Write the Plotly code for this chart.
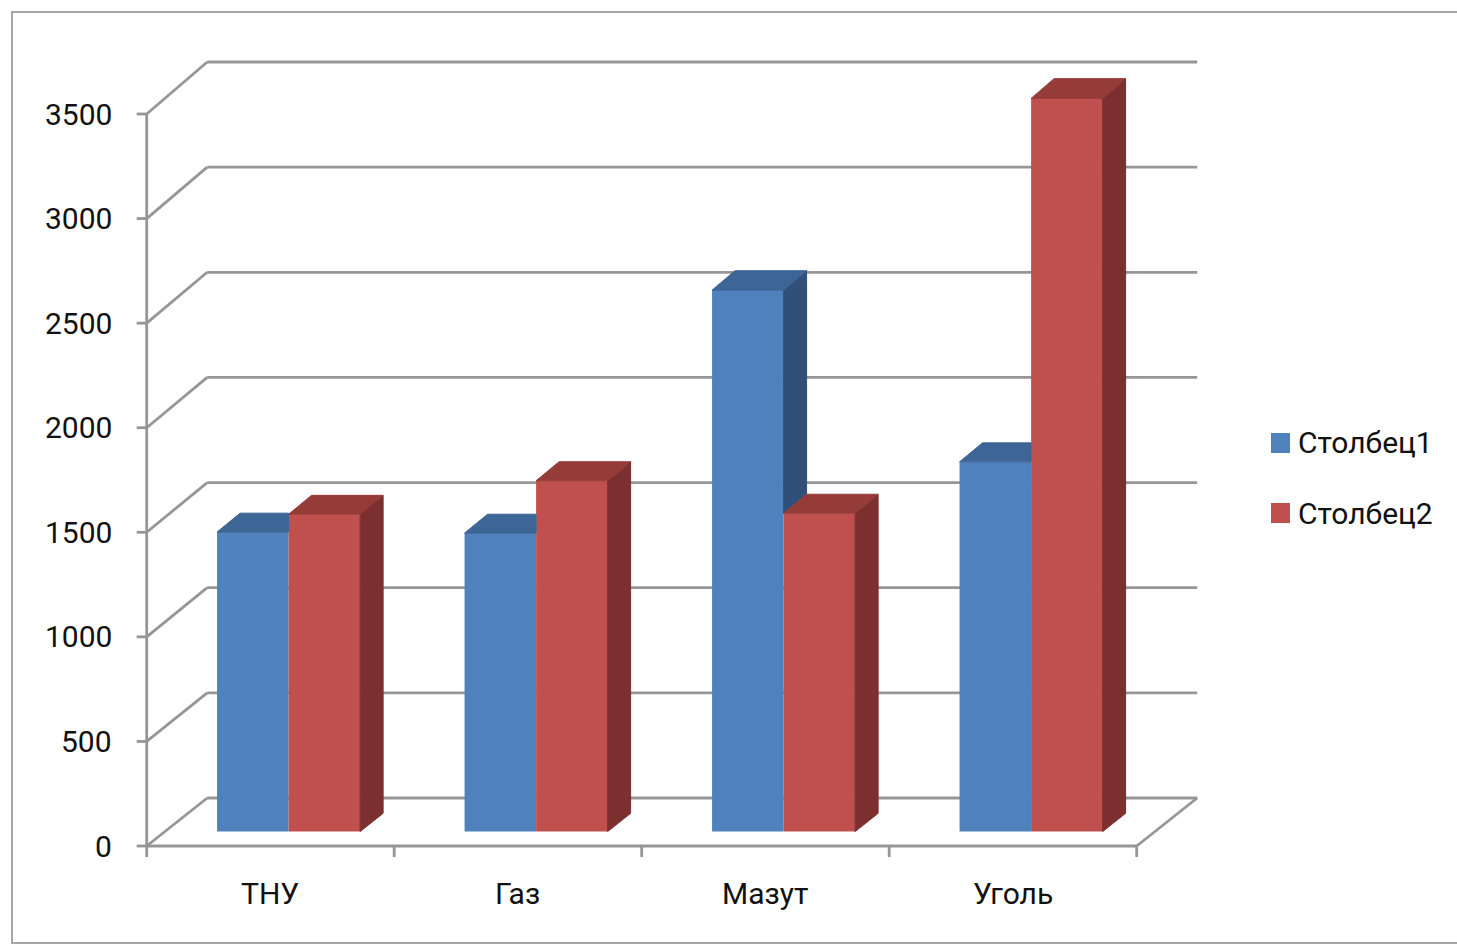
import plotly.graph_objects as go

# ---- data ----
categories = ["ТНУ", "Газ", "Мазут", "Уголь"]
series_names = ["Столбец1", "Столбец2"]
col1 = [1430, 1425, 2585, 1765]
col2 = [1515, 1675, 1520, 3500]
y_ticks = [0, 500, 1000, 1500, 2000, 2500, 3000, 3500]

# ---- geometry of the oblique 3-D box ----
W, H = 1457, 945
PX_CAT = 247.5            # pixels per category slot
PX_VAL = 732 / 3500       # pixels per value unit on the front plane
ORIGIN_X, ORIGIN_Y = 146.7, 846.0   # front-left floor corner in pixels

DEPTH_X = 60.5 / PX_CAT   # horizontal shift of the back wall (category units)
DEPTH_Y = 48 / PX_VAL     # vertical shift of the back wall (value units)
DEPTH_GROW = 4 / 732      # slight perspective growth toward the back
BAR_D0, BAR_D1 = 0.30, 0.68
BAR_W = 0.289

FRONT = ["#4F81BD", "#C0504D"]
TOP = ["#3D6595", "#953B38"]
SIDE = ["#30507A", "#7B2F2E"]
GRID = "#969696"
FONT = "Roboto, sans-serif"
FS = 30


def proj(c, v, d):
    """Map (category pos, value, depth 0..1) onto the flat plot plane."""
    return c + d * DEPTH_X, v * (1 + d * DEPTH_GROW) + d * DEPTH_Y


fig = go.Figure()
shapes = []


def seg(p, q, width=2.8):
    shapes.append(dict(type="line", xref="x", yref="y", layer="below",
                       x0=p[0], y0=p[1], x1=q[0], y1=q[1],
                       line=dict(color=GRID, width=width)))


n = len(categories)
top_val = y_ticks[-1]
# walls and gridlines
for v in y_ticks:
    seg(proj(0, v, 0), proj(0, v, 1))
    seg(proj(0, v, 1), proj(n, v, 1))
seg(proj(0, 0, 0), proj(n, 0, 0))
seg(proj(n, 0, 0), proj(n, 0, 1))
seg(proj(0, 0, 0), proj(0, top_val, 0))
# tick marks
for v in y_ticks:
    seg((-10 / PX_CAT, v), (0, v))
for i in range(n + 1):
    seg((i, 0), (i, -11 / PX_VAL))

series = [col1, col2]

# front faces as bars
for s, vals in enumerate(series):
    xs, bases, lens = [], [], []
    for i, v in enumerate(vals):
        left = i + 0.5 - BAR_W + s * BAR_W
        cx, base = proj(left + BAR_W / 2, 0, BAR_D0)
        _, top = proj(left + BAR_W / 2, v, BAR_D0)
        xs.append(cx)
        bases.append(base)
        lens.append(top - base)
    fig.add_trace(go.Bar(x=xs, y=lens, base=bases, width=BAR_W,
                         marker=dict(color=FRONT[s], line=dict(width=0)),
                         name=series_names[s], showlegend=False,
                         hoverinfo="skip"))


def poly_trace(polys, color):
    xs, ys = [], []
    for pts in polys:
        for p in pts:
            xs.append(p[0])
            ys.append(p[1])
        xs.append(pts[0][0])
        ys.append(pts[0][1])
        xs.append(None)
        ys.append(None)
    fig.add_trace(go.Scatter(x=xs, y=ys, mode="lines", fill="toself",
                             fillcolor=color, line=dict(color=color, width=1),
                             showlegend=False, hoverinfo="skip"))


# side and top faces; blue faces are trimmed where the red bar hides them
for s, vals in enumerate(series):
    sides, tops = [], []
    for i, v in enumerate(vals):
        left = i + 0.5 - BAR_W + s * BAR_W
        right = left + BAR_W
        if s == 0:
            lo = col2[i]
            if v > lo:
                sides.append([proj(right, lo, BAR_D0), proj(right, v, BAR_D0),
                              proj(right, v, BAR_D1), proj(right, lo, BAR_D1)])
                tops.append([proj(left, v, BAR_D0), proj(right, v, BAR_D0),
                             proj(right, v, BAR_D1), proj(left, v, BAR_D1)])
            else:
                back_y = proj(left, v, BAR_D1)[1]
                tops.append([proj(left, v, BAR_D0), proj(right, v, BAR_D0),
                             (proj(right, v, BAR_D0)[0], back_y),
                             proj(left, v, BAR_D1)])
        else:
            sides.append([proj(right, 0, BAR_D0), proj(right, v, BAR_D0),
                          proj(right, v, BAR_D1), proj(right, 0, BAR_D1)])
            tops.append([proj(left, v, BAR_D0), proj(right, v, BAR_D0),
                         proj(right, v, BAR_D1), proj(left, v, BAR_D1)])
    if sides:
        poly_trace(sides, SIDE[s])
    poly_trace(tops, TOP[s])

annotations = []
# value axis labels
for v in y_ticks:
    annotations.append(dict(x=(114 - ORIGIN_X) / PX_CAT, y=v, xref="x", yref="y",
                            text=str(v), showarrow=False, xanchor="right",
                            yanchor="middle",
                            font=dict(family=FONT, size=FS, color="#111111")))
# category labels
for i, c in enumerate(categories):
    annotations.append(dict(x=i + 0.5, y=(ORIGIN_Y - 893) / PX_VAL, xref="x", yref="y",
                            text=c, showarrow=False, xanchor="center",
                            yanchor="middle",
                            font=dict(family=FONT, size=FS, color="#111111")))

# legend
legend_rows = [443, 513]
for s, name in enumerate(series_names):
    cy = legend_rows[s]
    shapes.append(dict(type="rect", xref="paper", yref="paper",
                       x0=1271 / W, x1=1290 / W,
                       y0=1 - (cy + 10) / H, y1=1 - (cy - 10) / H,
                       fillcolor=FRONT[s], line=dict(width=0)))
    annotations.append(dict(x=1296 / W, y=1 - cy / H, xref="paper", yref="paper",
                            text=name, showarrow=False, xanchor="left",
                            yanchor="middle",
                            font=dict(family=FONT, size=FS, color="#111111")))

# outer frame of the chart area
shapes.append(dict(type="rect", xref="paper", yref="paper",
                   x0=12 / W, x1=1.02, y0=1 - 943 / H, y1=1 - 12 / H,
                   line=dict(color="#A6A6A6", width=2), fillcolor="rgba(0,0,0,0)"))

fig.update_layout(
    width=W, height=H,
    margin=dict(l=0, r=0, t=0, b=0),
    paper_bgcolor="white", plot_bgcolor="white",
    barmode="overlay",
    xaxis=dict(visible=False, range=[-ORIGIN_X / PX_CAT, (W - ORIGIN_X) / PX_CAT],
               fixedrange=True),
    yaxis=dict(visible=False, range=[-(H - ORIGIN_Y) / PX_VAL, ORIGIN_Y / PX_VAL],
               fixedrange=True),
    shapes=shapes,
    annotations=annotations,
    showlegend=False,
)

fig.write_html("out.html")
